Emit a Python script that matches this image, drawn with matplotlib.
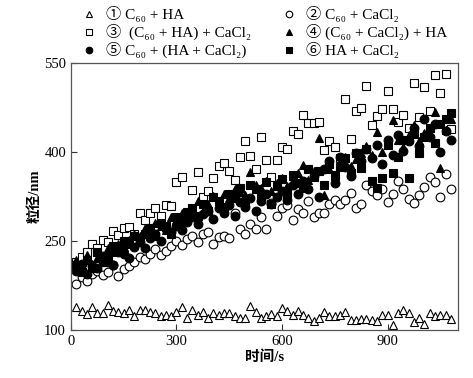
import numpy as np
import matplotlib
matplotlib.use("Agg")
import matplotlib.pyplot as plt

plt.rcParams['font.family'] = ['Liberation Serif', 'Noto Sans CJK SC', 'DejaVu Sans']

# --- data (time step 15 s) ---
s1_c60_ha = [139, 132, 127, 138, 128, 129, 142, 132, 131, 129, 134, 124, 133, 134, 131, 128,
             123, 126, 124, 130, 138, 121, 134, 125, 131, 120, 129, 125, 129, 128, 124, 121,
             120, 140, 131, 120, 123, 127, 123, 137, 132, 126, 132, 125, 120, 116, 120, 131,
             124, 124, 125, 131, 117, 117, 118, 118, 117, 116, 125, 125, 109, 128, 134, 128,
             114, 120, 110, 128, 123, 125, 125, 118]
s2_c60_cacl2 = [178, 190, 183, 195, 200, 192, 198, 210, 191, 203, 208, 215, 223, 219, 228, 236,
                226, 233, 242, 250, 244, 253, 258, 248, 262, 265, 245, 257, 258, 255, 297, 270,
                262, 279, 270, 290, 270, 314, 292, 305, 311, 285, 304, 297, 318, 290, 298, 298,
                312, 319, 312, 319, 331, 305, 312, 344, 335, 328, 337, 316, 330, 352, 338, 321,
                314, 328, 341, 358, 349, 324, 363, 337]
s3_ha_first = [215, 223, 232, 245, 238, 252, 248, 267, 260, 272, 273, 262, 297, 285, 297, 305,
               292, 311, 309, 349, 358, 299, 336, 366, 324, 334, 356, 376, 381, 368, 353, 392,
               419, 393, 372, 425, 386, 358, 386, 409, 405, 435, 430, 462, 449, 449, 451, 403,
               419, 409, 390, 489, 422, 469, 474, 511, 446, 461, 472, 503, 472, 450, 462, 440,
               516, 459, 510, 469, 530, 499, 531, 439]
s4_cacl2_first = [218, 205, 226, 212, 222, 215, 238, 232, 245, 240, 252, 262, 258, 272, 265, 280,
                  276, 268, 290, 285, 298, 292, 305, 318, 300, 312, 326, 318, 330, 322, 338, 332,
                  328, 366, 345, 340, 352, 335, 348, 356, 342, 360, 365, 378, 353, 368, 423, 327,
                  372, 360, 380, 392, 376, 388, 398, 410, 395, 434, 400, 415, 454, 420, 408, 428,
                  445, 418, 432, 440, 467, 373, 438, 455]
s5_premix = [200, 212, 195, 208, 205, 225, 215, 210, 232, 228, 222, 240, 248, 238, 255, 262,
             250, 270, 265, 275, 268, 282, 290, 278, 295, 300, 288, 305, 298, 310, 292, 315,
             308, 322, 300, 318, 330, 312, 325, 335, 320, 345, 330, 352, 338, 360, 325, 372,
             385, 348, 392, 375, 360, 398, 385, 405, 390, 412, 380, 420, 395, 428, 402, 418,
             440, 410, 455, 425, 448, 400, 435, 420]
s6_ha_cacl2 = [210, 198, 218, 205, 232, 215, 225, 242, 235, 250, 245, 258, 248, 262, 272, 258,
               280, 275, 262, 290, 282, 298, 305, 292, 312, 300, 325, 318, 308, 330, 322, 340,
               315, 345, 338, 325, 350, 312, 342, 355, 330, 362, 348, 340, 372, 358, 368, 345,
               380, 362, 375, 390, 365, 398, 373, 405, 351, 339, 356, 412, 365, 392, 420, 356,
               430, 398, 425, 440, 415, 448, 455, 466]

labels = ['① C₆₀ + HA',
          '② C₆₀ + CaCl₂',
          '③  (C₆₀ + HA) + CaCl₂',
          '④ (C₆₀ + CaCl₂) + HA',
          '⑤ C₆₀ + (HA + CaCl₂)',
          '⑥ HA + CaCl₂']
series = [s1_c60_ha, s2_c60_cacl2, s3_ha_first, s4_cacl2_first, s5_premix, s6_ha_cacl2]
markers = ['^', 'o', 's', '^', 'o', 's']
faces = ['white', 'white', 'white', 'black', 'black', 'black']

fig = plt.figure(figsize=(4.73, 3.78), dpi=100)
ax = fig.add_axes([0.150, 0.127, 0.818, 0.706])

handles = []
for vals, m, fc, lab in zip(series, markers, faces, labels):
    t = np.arange(1, len(vals) + 1) * 15
    h, = ax.plot(t, vals, linestyle='none', marker=m, markersize=6.3,
                 markerfacecolor=fc, markeredgecolor='black', markeredgewidth=0.8,
                 label=lab)
    handles.append(h)

ax.set_xlim(0, 1100)
ax.set_ylim(100, 550)
ax.set_xticks([0, 300, 600, 900])
ax.set_yticks([100, 250, 400, 550])
ax.tick_params(direction='in', length=4, width=0.8, labelsize=10.5, colors='#333333')
ax.tick_params(labelcolor='black')
for sp in ax.spines.values():
    sp.set_color('#555555')
    sp.set_linewidth(0.9)

ax.set_xlabel('时间/s', fontsize=10.5, fontweight='bold', labelpad=2)
ax.set_ylabel('粒径/nm', fontsize=10.5, fontweight='bold', labelpad=2)

order = [0, 2, 4, 1, 3, 5]
fig.legend([handles[i] for i in order], [labels[i] for i in order],
           ncol=2, frameon=False, loc='upper left', bbox_to_anchor=(0.14, 1.02),
           fontsize=11, handletextpad=0.5, columnspacing=1.9,
           labelspacing=0.12, handlelength=1.2, markerscale=0.75)

fig.savefig('out.png', dpi=100)
